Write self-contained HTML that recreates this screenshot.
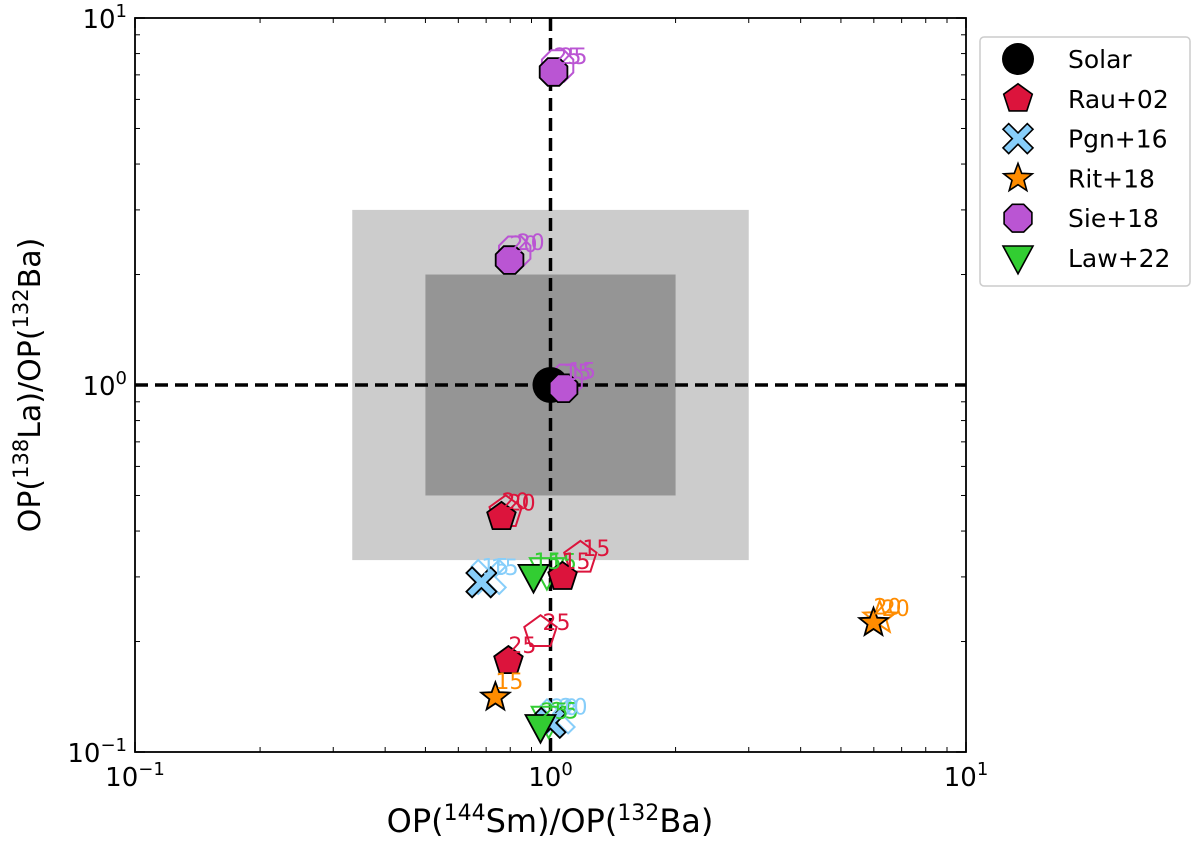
<!DOCTYPE html>
<html><head><meta charset="utf-8"><style>
body{margin:0;background:#fff;}
svg text{font-family:"DejaVu Sans","Liberation Sans",sans-serif;}
</style></head><body>
<svg id="chart" width="1200" height="845" xmlns="http://www.w3.org/2000/svg">
<g id="bg">
<rect id="box1" fill="#cccccc"/>
<rect id="box2" fill="#959595"/>
</g>
<line id="vline" stroke="#000" stroke-width="3.5" stroke-dasharray="13,7"/>
<line id="hline" stroke="#000" stroke-width="3.5" stroke-dasharray="13,7"/>
<g id="marks"></g>
<g id="axes"></g>
<rect x="135" y="18" width="831" height="734" fill="none" stroke="#000" stroke-width="1.8"/>
<text x="550" y="832" font-size="32" text-anchor="middle">OP(<tspan font-size="22" dy="-12">144</tspan><tspan dy="12">Sm)/OP(</tspan><tspan font-size="22" dy="-12">132</tspan><tspan dy="12">Ba)</tspan></text>
<text transform="translate(40,385) rotate(-90)" font-size="30" text-anchor="middle">OP(<tspan font-size="21" dy="-12">138</tspan><tspan dy="12">La)/OP(</tspan><tspan font-size="21" dy="-12">132</tspan><tspan dy="12">Ba)</tspan></text>
<g>
<rect x="980" y="37" width="210" height="249" rx="4" fill="#fff" stroke="#ccc" stroke-width="1.5"/>
<g id="legend"></g>
</g>
</svg>
<script>
const X0=135,X1=966,Y0=752,Y1=18;
const xLog=[-1,1], yLog=[-1,1];
function sx(v){return X0+(Math.log10(v)-xLog[0])/(xLog[1]-xLog[0])*(X1-X0);}
function sy(v){return Y0-(Math.log10(v)-yLog[0])/(yLog[1]-yLog[0])*(Y0-Y1);}
const NS="http://www.w3.org/2000/svg";
function mk(tag,attrs,parent){const e=document.createElementNS(NS,tag);for(const k in attrs)e.setAttribute(k,attrs[k]);parent.appendChild(e);return e;}

const seriesNames=["Rau+02","Pgn+16","Rit+18","Sie+18","Law+22"];
const seriesColors=["#dc143c","#87cefa","#ff8c00","#ba55d3","#32cd32"];
const seriesShapes=["pent","x","star","oct","tri"];
const rauFilled=[[0.762,0.437,"20"],[1.069,0.300,"15"],[0.792,0.177,"25"]];
const rauOpen=[[0.78,0.45,"20"],[1.18,0.338,"15"],[0.946,0.212,"25"]];
const pgnFilled=[[0.682,0.290,"15"],[1.0,0.12,"20"]];
const pgnOpen=[[0.71,0.30,"15"],[1.04,0.125,"20"]];
const ritFilled=[[0.737,0.141,"15"],[5.99,0.225,"20"]];
const ritOpen=[[6.2,0.232,"20"]];
const sieFilled=[[1.017,7.13,"25"],[0.797,2.19,"20"],[1.075,0.98,"15"]];
const sieOpen=[[1.04,7.4,"25"],[0.82,2.3,"20"],[1.09,1.03,"15"]];
const lawFilled=[[0.91,0.300,"15"],[0.946,0.117,"25"]];
const lawOpen=[[0.98,0.31,"15"],[0.99,0.122,"25"]];
const filledSets=[rauFilled,pgnFilled,ritFilled,sieFilled,lawFilled];
const openSets=[rauOpen,pgnOpen,ritOpen,sieOpen,lawOpen];
const solar=[1,1];
const outerBox=[1/3,3], innerBox=[0.5,2];
const tickMajor=[0.1,1,10];
const tickLabels=["10","10","10"], tickExps=["\u22121","0","1"];

function shapePts(shape,cx,cy,r){
  let p=[];
  if(shape==="pent"){for(let i=0;i<5;i++){const a=-Math.PI/2+i*2*Math.PI/5;p.push([cx+r*Math.cos(a),cy+r*Math.sin(a)]);}}
  else if(shape==="oct"){for(let i=0;i<8;i++){const a=Math.PI/8+i*Math.PI/4;p.push([cx+r*Math.cos(a),cy+r*Math.sin(a)]);}}
  else if(shape==="tri"){p=[[cx-r,cy-r*0.8],[cx+r,cy-r*0.8],[cx,cy+r*1.05]];}
  else if(shape==="star"){for(let i=0;i<10;i++){const a=-Math.PI/2+i*Math.PI/5;const rr=i%2?r*0.42:r;p.push([cx+rr*Math.cos(a),cy+rr*Math.sin(a)]);}}
  else if(shape==="x"){const w=r*0.38,L=r;const base=[[0,-w],[L-w,-L],[L,-L+w],[w,0],[L,L-w],[L-w,L],[0,w],[-L+w,L],[-L,L-w],[-w,0],[-L,-L+w],[-L+w,-L]];p=base.map(q=>[cx+q[0],cy+q[1]]);}
  return p.map(q=>q[0].toFixed(1)+","+q[1].toFixed(1)).join(" ");
}

const b1=document.getElementById('box1');
b1.setAttribute('x',sx(outerBox[0]));b1.setAttribute('y',sy(outerBox[1]));
b1.setAttribute('width',sx(outerBox[1])-sx(outerBox[0]));b1.setAttribute('height',sy(outerBox[0])-sy(outerBox[1]));
const b2=document.getElementById('box2');
b2.setAttribute('x',sx(innerBox[0]));b2.setAttribute('y',sy(innerBox[1]));
b2.setAttribute('width',sx(innerBox[1])-sx(innerBox[0]));b2.setAttribute('height',sy(innerBox[0])-sy(innerBox[1]));
const vl=document.getElementById('vline');vl.setAttribute('x1',sx(1));vl.setAttribute('x2',sx(1));vl.setAttribute('y1',Y1);vl.setAttribute('y2',Y0);
const hl=document.getElementById('hline');hl.setAttribute('y1',sy(1));hl.setAttribute('y2',sy(1));hl.setAttribute('x1',X0);hl.setAttribute('x2',X1);

const marks=document.getElementById('marks');
openSets.forEach((set,s)=>{set.forEach(d=>{
  const cx=sx(d[0]),cy=sy(d[1]);
  const el=mk('polygon',{points:shapePts(seriesShapes[s],cx,cy,17),fill:'none',stroke:seriesColors[s],'stroke-width':2},marks);
  
  
  const t=mk('text',{x:cx+2,y:cy-2,'font-size':22,fill:seriesColors[s]},marks);t.textContent=d[2];
  
  
});});
const sc=mk('circle',{cx:sx(solar[0]),cy:sy(solar[1]),r:18,fill:'#000'},marks);


filledSets.forEach((set,s)=>{set.forEach(d=>{
  const cx=sx(d[0]),cy=sy(d[1]);
  const el=mk('polygon',{points:shapePts(seriesShapes[s],cx,cy,15),fill:seriesColors[s],stroke:'#000','stroke-width':1.8},marks);
  
  
  const t=mk('text',{x:cx,y:cy-8,'font-size':22,fill:seriesColors[s]},marks);t.textContent=d[2];
  
  
});});

const ax=document.getElementById('axes');
tickMajor.forEach((v,i)=>{
  const x=sx(v),y=sy(v);
  mk('line',{x1:x,x2:x,y1:Y0,y2:Y0-10,stroke:'#000','stroke-width':1.5},ax);
  mk('line',{x1:x,x2:x,y1:Y1,y2:Y1+10,stroke:'#000','stroke-width':1.5},ax);
  mk('line',{x1:X0,x2:X0+10,y1:y,y2:y,stroke:'#000','stroke-width':1.5},ax);
  mk('line',{x1:X1,x2:X1-10,y1:y,y2:y,stroke:'#000','stroke-width':1.5},ax);
  const tx=mk('text',{x:x,y:Y0+34,'font-size':26,'text-anchor':'middle'},ax);
  tx.innerHTML=tickLabels[i]+'<tspan font-size="18" dy="-11">'+tickExps[i]+'</tspan>';
  
  
  const ty=mk('text',{x:X0-8,y:y+10,'font-size':26,'text-anchor':'end'},ax);
  ty.innerHTML=tickLabels[i]+'<tspan font-size="18" dy="-11">'+tickExps[i]+'</tspan>';
  
  
});
for(let d=0;d<2;d++){for(let m=2;m<=9;m++){
  const v=Math.pow(10,d-1)*m;const x=sx(v),y=sy(v);
  mk('line',{x1:x,x2:x,y1:Y0,y2:Y0-5,stroke:'#000','stroke-width':1},ax);
  mk('line',{x1:x,x2:x,y1:Y1,y2:Y1+5,stroke:'#000','stroke-width':1},ax);
  mk('line',{x1:X0,x2:X0+5,y1:y,y2:y,stroke:'#000','stroke-width':1},ax);
  mk('line',{x1:X1,x2:X1-5,y1:y,y2:y,stroke:'#000','stroke-width':1},ax);
}}

const lg=document.getElementById('legend');
const legNames=["Solar"].concat(seriesNames);
legNames.forEach((n,i)=>{
  const y=59+i*39.8;
  let el;
  if(i===0){el=mk('circle',{cx:1018,cy:y,r:16,fill:'#000'},lg);}
  else{el=mk('polygon',{points:shapePts(seriesShapes[i-1],1018,y,15),fill:seriesColors[i-1],stroke:'#000','stroke-width':1.6},lg);}
  
  
  const t=mk('text',{x:1068,y:y+9,'font-size':25},lg);t.textContent=n;
  
  
});
</script>
</body></html>
